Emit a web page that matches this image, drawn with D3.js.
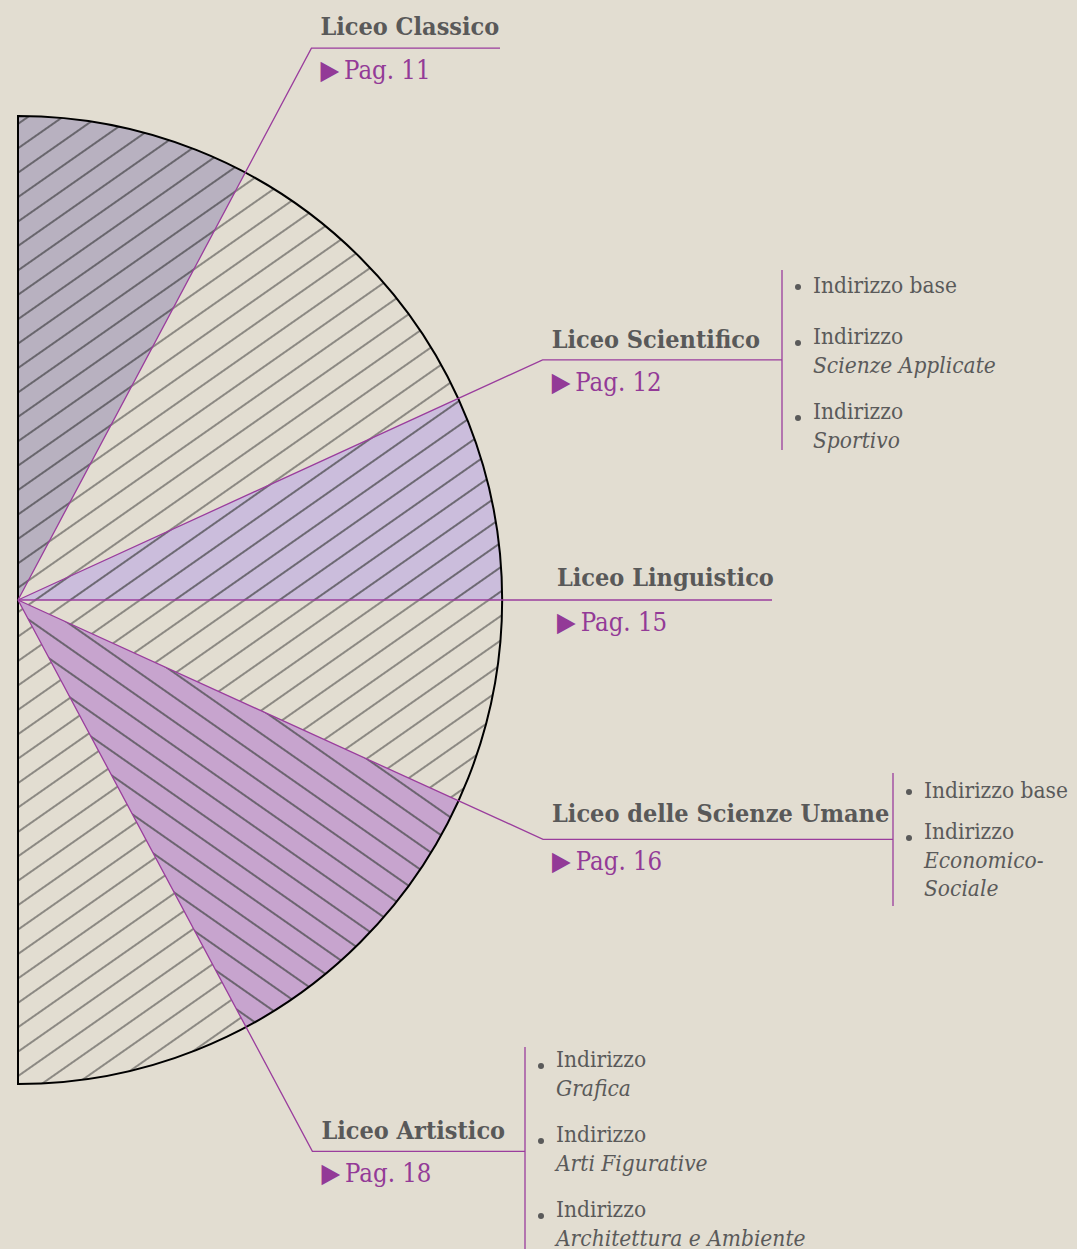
<!DOCTYPE html>
<html>
<head>
<meta charset="UTF-8">
<title>Licei</title>
<script src="https://d3js.org/d3.v7.min.js"></script>
<style>
    body { margin: 0; background: #e2ddd1; }
    .titolo { font-family: "DejaVu Serif Condensed", "DejaVu Serif", serif; font-stretch: condensed; font-weight: bold; font-size: 25px; fill: #595959; }
    .pag { font-family: "DejaVu Serif Condensed", "DejaVu Serif", serif; font-stretch: condensed; font-size: 25.5px; fill: #933a97; }
    .voce { font-family: "DejaVu Serif Condensed", "DejaVu Serif", serif; font-stretch: condensed; font-size: 22.5px; fill: #5a5a5a; }
    .voce .it { font-style: italic; }
</style>
</head>
<body>
<script>

// slices of the half circle, in degrees, from the top clockwise
var sliceValues = [28, 37.4, 24.6, 24.5, 37.4, 28.1];
var sliceKinds = ["classico", "vuoto", "scientifico", "vuoto", "umane", "vuoto"];

var licei = ["Liceo Classico", "Liceo Scientifico", "Liceo Linguistico", "Liceo delle Scienze Umane", "Liceo Artistico"];
var pagine = [11, 12, 15, 16, 18];

// each item: first line, then italic lines
var indirizzi = [
    [],
    [["Indirizzo base"], ["Indirizzo", "Scienze Applicate"], ["Indirizzo", "Sportivo"]],
    [],
    [["Indirizzo base"], ["Indirizzo", "Economico-", "Sociale"]],
    [["Indirizzo", "Grafica"], ["Indirizzo", "Arti Figurative"], ["Indirizzo", "Architettura e Ambiente"]]
];

var width = 1077, height = 1249;
var cx = 18, cy = 600, radius = 484;

// layout of the labels
var elbowDist = [625, 577, 525, 577, 625];
var lineEnd = [500, 782, 772, 893, 525];
var titleDx = [9, 9, 14, 9, 9];
var titleDy = [-13, -12, -14, -17, -12];
var listLayout = [
    null,
    {top: 270, bottom: 450, lines: [293, 344, 419]},
    null,
    {top: 773, bottom: 906, lines: [798, 839]},
    {top: 1047, bottom: 1249, lines: [1067, 1142, 1217]}
];

var fills = {classico: "#b8b1c0", scientifico: "#cbbddc", umane: "#c7a4ce", vuoto: "none"};
var purple = "#9a3d9d";

var svg = d3.select("body").append("svg")
        .attr("width", width)
        .attr("height", height);

var defs = svg.append("defs");

function hatch(id, angle, color) {
    var p = defs.append("pattern")
            .attr("id", id)
            .attr("patternUnits", "userSpaceOnUse")
            .attr("width", 20)
            .attr("height", 20)
            .attr("patternTransform", "rotate(" + angle + ")");
    p.append("line")
            .attr("x1", 0).attr("y1", 10)
            .attr("x2", 20).attr("y2", 10)
            .attr("stroke", color)
            .attr("stroke-width", 1.6);
}
hatch("h-chiaro", -35, "#76746f");
hatch("h-scuro", -35, "#555358");
hatch("h-inverso", 35, "#555358");

var pie = d3.pie()
        .sort(null)
        .value(function (d) { return d; })
        .startAngle(0)
        .endAngle(Math.PI);

var arcs = pie(sliceValues);

var arc = d3.arc()
        .innerRadius(0)
        .outerRadius(radius);

var g = svg.append("g")
        .attr("transform", "translate(" + cx + "," + cy + ")");

// colour fill
g.selectAll(".fetta")
        .data(arcs)
        .enter().append("path")
        .attr("class", "fetta")
        .attr("d", arc)
        .attr("fill", function (d, i) { return fills[sliceKinds[i]]; });

// hatching
g.selectAll(".tratteggio")
        .data(arcs)
        .enter().append("path")
        .attr("class", "tratteggio")
        .attr("d", arc)
        .attr("fill", function (d, i) {
            var k = sliceKinds[i];
            if (k === "umane") return "url(#h-inverso)";
            if (k === "vuoto") return "url(#h-chiaro)";
            return "url(#h-scuro)";
        });

// outline of the half circle
var half = d3.arc()
        .innerRadius(0)
        .outerRadius(radius)
        .startAngle(0)
        .endAngle(Math.PI);

g.append("path")
        .attr("d", half())
        .attr("fill", "none")
        .attr("stroke", "#000")
        .attr("stroke-width", 2);

// leader lines, along the slice borders
var leaders = licei.map(function (name, i) {
    var a = arcs[i].endAngle;
    var ex = cx + elbowDist[i] * Math.sin(a);
    var ey = cy - elbowDist[i] * Math.cos(a);
    return {name: name, page: pagine[i], ex: ex, ey: ey, i: i};
});

svg.selectAll(".guida")
        .data(leaders)
        .enter().append("path")
        .attr("class", "guida")
        .attr("d", function (d) {
            return d3.line()([[cx, cy], [d.ex, d.ey], [lineEnd[d.i], d.ey]]);
        })
        .attr("fill", "none")
        .attr("stroke", purple)
        .attr("stroke-width", 1.3);

svg.selectAll(".titolo")
        .data(leaders)
        .enter().append("text")
        .attr("class", "titolo")
        .attr("x", function (d) { return d.ex + titleDx[d.i]; })
        .attr("y", function (d) { return d.ey + titleDy[d.i]; })
        .text(function (d) { return d.name; });

var pag = svg.selectAll(".pag")
        .data(leaders)
        .enter().append("text")
        .attr("class", "pag")
        .attr("x", function (d) { return d.ex + titleDx[d.i]; })
        .attr("y", function (d) { return d.ey + 31; });
pag.append("tspan")
        .style("font-family", "DejaVu Sans")
        .style("font-size", "27px")
        .text("\u25B6\uFE0E");
pag.append("tspan")
        .attr("dx", 5)
        .text(function (d) { return "Pag. " + d.page; });

// lists of indirizzi
leaders.forEach(function (d) {
    var lay = listLayout[d.i];
    if (!lay) return;
    var bx = lineEnd[d.i];
    svg.append("line")
            .attr("x1", bx).attr("x2", bx)
            .attr("y1", lay.top).attr("y2", lay.bottom)
            .attr("stroke", purple)
            .attr("stroke-width", 1.3);
    indirizzi[d.i].forEach(function (item, j) {
        var y0 = lay.lines[j];
        svg.append("circle")
                .attr("cx", bx + 16)
                .attr("cy", item.length === 1 ? y0 - 6 : y0 - 1)
                .attr("r", 3)
                .attr("fill", "#5a5a5a");
        var t = svg.append("text")
                .attr("class", "voce")
                .attr("x", bx + 31)
                .attr("y", y0);
        item.forEach(function (line, k) {
            t.append("tspan")
                    .attr("class", k > 0 ? "it" : null)
                    .attr("x", bx + 31)
                    .attr("dy", k === 0 ? 0 : 28.5)
                    .text(line);
        });
    });
});

</script>
</body>
</html>
